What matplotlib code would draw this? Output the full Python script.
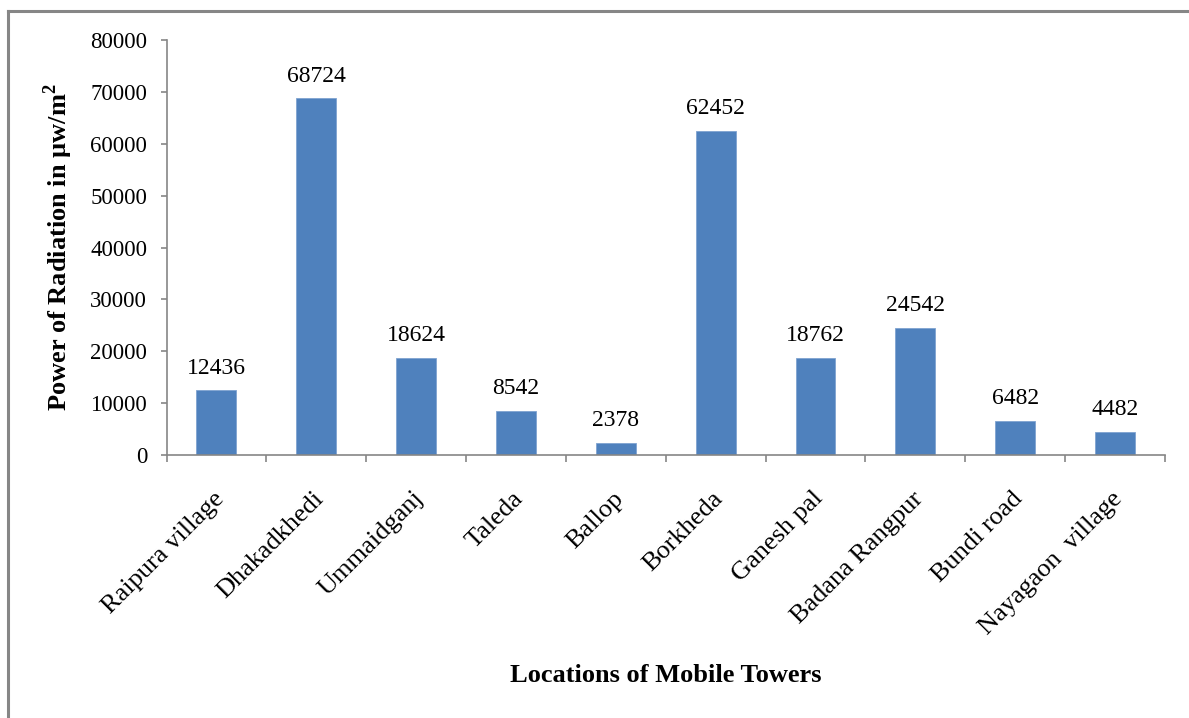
import matplotlib
matplotlib.use('Agg')
import matplotlib.pyplot as plt
import matplotlib.transforms as mtransforms
from matplotlib.lines import Line2D

# Data
locations = ['Raipura village', 'Dhakadkhedi', 'Ummaidganj', 'Taleda', 'Ballop',
             'Borkheda', 'Ganesh pal', 'Badana Rangpur', 'Bundi road', 'Nayagaon  village']
radiation = [12436, 68724, 18624, 8542, 2378, 62452, 18762, 24542, 6482, 4482]
yticks = [0, 10000, 20000, 30000, 40000, 50000, 60000, 70000, 80000]

plt.rcParams['font.family'] = ['Liberation Serif', 'DejaVu Serif']
axis_grey = '#868686'

fig = plt.figure(figsize=(11.89, 7.18), dpi=100)
ax = fig.add_axes([166.5/1189, 1-455/718, 998.5/1189, 415/718])

x = range(len(locations))
bars = ax.bar(x, radiation, width=0.4, color='#4F81BD', edgecolor='#7FA3D0', linewidth=0.6)
for xi, v in zip(x, radiation):
    ax.text(xi, v + 2300, str(v), ha='center', va='bottom', fontsize=17)

ax.set_xlim(-0.5, len(locations) - 0.5)
ax.set_ylim(0, 80000)
ax.set_yticks(yticks)
ax.set_yticklabels([str(t) for t in yticks], fontsize=16.5)
ax.set_xticks(x)
ax.set_xticklabels(locations, rotation=45, ha='right', va='center',
                   rotation_mode='anchor', fontsize=19)
ax.tick_params(axis='x', length=0, pad=29)
ax.tick_params(axis='y', length=4, color=axis_grey, width=1.2, pad=10)
# nudge rotated labels a little to the right
shift = mtransforms.ScaledTranslation(4/100, 0, fig.dpi_scale_trans)
for lbl in ax.get_xticklabels():
    lbl.set_transform(lbl.get_transform() + shift)
# category boundary ticks
ax.set_xticks([i - 0.5 for i in range(len(locations) + 1)], minor=True)
ax.tick_params(axis='x', which='minor', length=5, color=axis_grey, width=1.2)

for s in ['top', 'right']:
    ax.spines[s].set_visible(False)
for s in ['left', 'bottom']:
    ax.spines[s].set_color(axis_grey)
    ax.spines[s].set_linewidth(1.2)

ax.set_ylabel('Power of Radiation in µw/m$^\\mathregular{2}$', fontsize=19, fontweight='bold')
ax.yaxis.set_label_coords(-0.092, 0.5)
fig.text(0.56, 1-675/718, 'Locations of Mobile Towers', ha='center', va='center',
         fontsize=19, fontweight='bold')

# outer chart border (open on the right and bottom)
fig.add_artist(Line2D([8/1189, 8/1189], [0, 1-11/718], color=axis_grey, lw=2.2,
                      transform=fig.transFigure))
fig.add_artist(Line2D([8/1189, 1], [1-11/718, 1-11/718], color=axis_grey, lw=2.2,
                      transform=fig.transFigure))

fig.savefig('out.png', dpi=100)
